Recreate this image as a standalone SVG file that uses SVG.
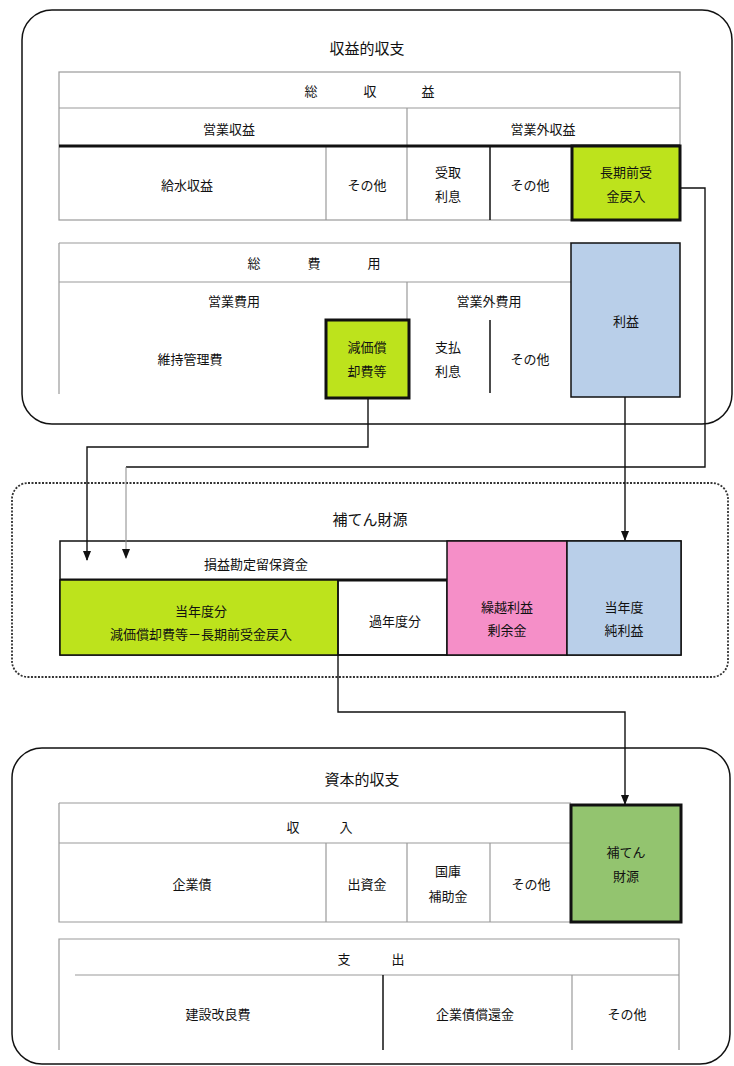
<svg xmlns="http://www.w3.org/2000/svg" width="734" height="1066" viewBox="0 0 734 1066">
<defs>
<style>
text{font-family:"Noto Sans CJK JP","Liberation Sans",sans-serif;font-size:13px;fill:#111;text-anchor:middle;dominant-baseline:central}
.t{font-size:15px}
.g{stroke:#9a9a9a;stroke-width:1.2;fill:none}
.k{stroke:#111;stroke-width:1.5;fill:none}
.kk{stroke:#111;stroke-width:3;fill:none}
.c{stroke:#111;stroke-width:1.4;fill:none}
.lime{fill:#bde31c}
.blue{fill:#b9cfe9}
.pink{fill:#f58fc8}
.green{fill:#93c46f}
</style>
<marker id="ah" viewBox="0 0 10 10" refX="9" refY="5" markerWidth="10" markerHeight="10" markerUnits="userSpaceOnUse" orient="auto"><path d="M0,1 L10,5 L0,9 Z" fill="#111"/></marker>
</defs>
<rect width="734" height="1066" fill="#fff"/>

<g id="shueki">
<rect x="22" y="10" width="710" height="414" rx="30" class="k" stroke-width="1.8"/>
<text x="367" y="47" class="t">収益的収支</text>
</g>

<g id="sou-shueki">
<rect x="59" y="72" width="621" height="148" class="g"/>
<line x1="59" y1="108" x2="680" y2="108" class="g"/>
<line x1="407" y1="108" x2="407" y2="220" class="g"/>
<line x1="326" y1="146" x2="326" y2="220" class="g"/>
<line x1="490" y1="146" x2="490" y2="220" class="k"/>
<line x1="59" y1="146" x2="680" y2="146" class="kk"/>
<text x="311" y="90">総</text><text x="370" y="90">収</text><text x="428" y="90">益</text>
<text x="229" y="128">営業収益</text>
<text x="543" y="128">営業外収益</text>
<text x="187" y="184">給水収益</text>
<text x="367" y="184">その他</text>
<text x="448" y="171">受取</text>
<text x="448" y="195">利息</text>
<text x="530" y="184">その他</text>
</g>
<g id="chouki">
<rect x="572" y="146" width="108" height="74" class="lime kk"/>
<text x="626" y="171">長期前受</text>
<text x="626" y="195">金戻入</text>
</g>

<g id="sou-hiyou">
<path d="M59,243 H571 M59,282 H571 M59,243 V394" class="g"/>
<line x1="407" y1="282" x2="407" y2="320" class="g"/>
<line x1="490" y1="320" x2="490" y2="393" class="k"/>
<text x="254" y="262">総</text><text x="314" y="262">費</text><text x="374" y="262">用</text>
<text x="234" y="300">営業費用</text>
<text x="489" y="300">営業外費用</text>
<text x="190" y="358">維持管理費</text>
<text x="448" y="346">支払</text>
<text x="448" y="370">利息</text>
<text x="530" y="358">その他</text>
</g>
<g id="genka">
<rect x="326" y="320" width="83" height="78" class="lime kk"/>
<text x="367" y="346">減価償</text>
<text x="367" y="370">却費等</text>
</g>
<g id="rieki">
<rect x="571" y="243" width="109" height="154" class="blue k" stroke-width="2"/>
<text x="626" y="320">利益</text>
</g>

<g id="hoten">
<rect x="12" y="483" width="716" height="194" rx="16" fill="none" stroke="#333" stroke-width="1.8" stroke-dasharray="2 1.5"/>
<text x="370" y="518" class="t">補てん財源</text>
<rect x="60" y="541" width="621" height="114" class="k" stroke-width="2"/>
<text x="256" y="563">損益勘定留保資金</text>
<line x1="60" y1="580" x2="447" y2="580" class="kk"/>
</g>
<g id="tounendo">
<rect x="60" y="580" width="278" height="75" class="lime k" stroke-width="2"/>
<text x="201" y="610">当年度分</text>
<text x="201" y="633">減価償却費等－長期前受金戻入</text>
</g>
<g id="kanendo">
<rect x="338" y="580" width="109" height="75" fill="#fff" class="k" stroke-width="2"/>
<text x="395" y="620">過年度分</text>
</g>
<g id="kurikoshi">
<rect x="447" y="541" width="120" height="114" class="pink k" stroke-width="2"/>
<text x="507" y="606">繰越利益</text>
<text x="507" y="629">剰余金</text>
</g>
<g id="junrieki">
<rect x="567" y="541" width="114" height="114" class="blue k" stroke-width="2"/>
<text x="624" y="606">当年度</text>
<text x="624" y="629">純利益</text>
</g>

<g id="shihon">
<rect x="12" y="748" width="718" height="316" rx="30" class="k" stroke-width="1.8"/>
<text x="362" y="778" class="t">資本的収支</text>
</g>
<g id="shunyu">
<path d="M59,803 H571 M59,843 H571 M59,803 V922 H571" class="g"/>
<path d="M326,843 V922 M407,843 V922 M490,843 V922" class="g"/>
<text x="293" y="826">収</text><text x="346" y="826">入</text>
<text x="192" y="883">企業債</text>
<text x="367" y="883">出資金</text>
<text x="448" y="870">国庫</text>
<text x="448" y="895">補助金</text>
<text x="531" y="883">その他</text>
</g>
<g id="hoten-zaigen">
<rect x="571" y="805" width="110" height="117" class="green kk"/>
<text x="626" y="851">補てん</text>
<text x="626" y="875">財源</text>
</g>
<g id="shishutsu">
<path d="M59,1050 V939 H679 V1050 M75,975 H679" class="g" stroke="#c8c8c8"/>
<line x1="383" y1="975" x2="383" y2="1050" class="k"/>
<line x1="572" y1="975" x2="572" y2="1050" class="g" stroke="#d0d0d0"/>
<text x="344" y="958">支</text><text x="398" y="958">出</text>
<text x="218" y="1013">建設改良費</text>
<text x="475" y="1013">企業債償還金</text>
<text x="627" y="1013">その他</text>
</g>

<g id="connectors">
<path d="M368,398 V447 H87 V560" class="c" marker-end="url(#ah)"/>
<path d="M680,188 H705 V467 H126" class="c"/>
<path d="M126,467 V558" stroke="#888" stroke-width="1" fill="none" marker-end="url(#ah)"/>
<path d="M625,397 V540" class="c" marker-end="url(#ah)"/>
<path d="M338,655 V712 H625 V804" class="c" marker-end="url(#ah)"/>
</g>
</svg>
